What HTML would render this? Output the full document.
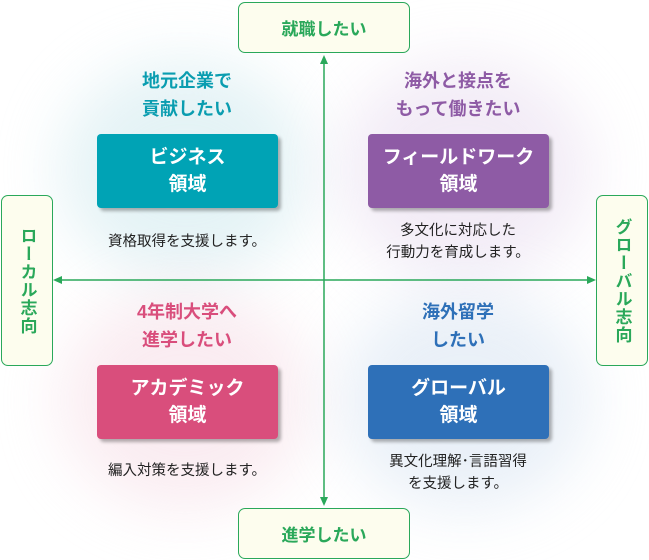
<!DOCTYPE html><html><head><meta charset="utf-8"><style>
body{margin:0;width:649px;height:560px;background:#fff;position:relative;overflow:hidden;font-family:"Liberation Sans","Noto Sans CJK JP",sans-serif}
.a{position:absolute}
.glow{position:absolute;border-radius:50%;filter:blur(30px);opacity:.55}
.lb{position:absolute;border:1.5px solid #2aa85a;background:#fdfdee;border-radius:7px;color:#2aa85a;font-weight:bold;font-size:17px;display:flex;align-items:center;justify-content:center;box-sizing:border-box}
.v{writing-mode:vertical-rl;letter-spacing:1px}
.box{position:absolute;width:181px;height:74px;border-radius:4px;color:#fff;font-weight:bold;font-size:19px;line-height:27px;text-align:center;display:flex;align-items:center;justify-content:center;box-shadow:3px 3px 3px rgba(0,0,0,.3)}
.h{position:absolute;width:240px;text-align:center;font-weight:bold;font-size:18px;line-height:28px}
.d{position:absolute;width:260px;text-align:center;font-size:14.5px;line-height:22px;color:#222}
</style></head><body>
<div class="glow" style="left:60px;top:60px;width:250px;height:220px;background:#cfe9ee"></div>
<div class="glow" style="left:340px;top:60px;width:250px;height:220px;background:#e8dcef"></div>
<div class="glow" style="left:60px;top:290px;width:250px;height:220px;background:#f6dde6"></div>
<div class="glow" style="left:340px;top:290px;width:250px;height:220px;background:#d8e4f2"></div>
<svg class="a" style="left:0;top:0" width="649" height="560">
<line x1="324" y1="62" x2="324" y2="500" stroke="#2aa85a" stroke-width="1.5"/>
<line x1="58" y1="280" x2="590" y2="280" stroke="#2aa85a" stroke-width="1.5"/>
<polygon points="324,55 320,64 328,64" fill="#2aa85a"/>
<polygon points="324,506 320,497 328,497" fill="#2aa85a"/>
<polygon points="53,280 62,276 62,284" fill="#2aa85a"/>
<polygon points="596,280 587,276 587,284" fill="#2aa85a"/>
</svg>
<div class="lb" style="left:238px;top:2px;width:172px;height:51px">就職したい</div>
<div class="lb" style="left:238px;top:508px;width:172px;height:51px">進学したい</div>
<div class="lb v" style="left:1px;top:195px;width:52px;height:171px">ローカル志向</div>
<div class="lb v" style="left:596px;top:195px;width:52px;height:171px">グローバル志向</div>
<div class="h" style="left:67px;top:67px;color:#0a9db0">地元企業で<br>貢献したい</div>
<div class="h" style="left:338px;top:67px;color:#8e5ba5">海外と接点を<br>もって働きたい</div>
<div class="h" style="left:67px;top:298px;color:#d94e7c">4年制大学へ<br>進学したい</div>
<div class="h" style="left:338px;top:298px;color:#2e70b8">海外留学<br>したい</div>
<div class="box" style="left:97px;top:134px;background:#00a3b5">ビジネス<br>領域</div>
<div class="box" style="left:368px;top:134px;background:#8e5ba5">フィールドワーク<br>領域</div>
<div class="box" style="left:97px;top:365px;background:#d94e7c">アカデミック<br>領域</div>
<div class="box" style="left:368px;top:365px;background:#2e70b8">グローバル<br>領域</div>
<div class="d" style="left:57px;top:231px">資格取得を支援します。</div>
<div class="d" style="left:328px;top:220px">多文化に対応した<br>行動力を育成します。</div>
<div class="d" style="left:57px;top:460px">編入対策を支援します。</div>
<div class="d" style="left:328px;top:451px">異文化理解･言語習得<br>を支援します。</div>
</body></html>
